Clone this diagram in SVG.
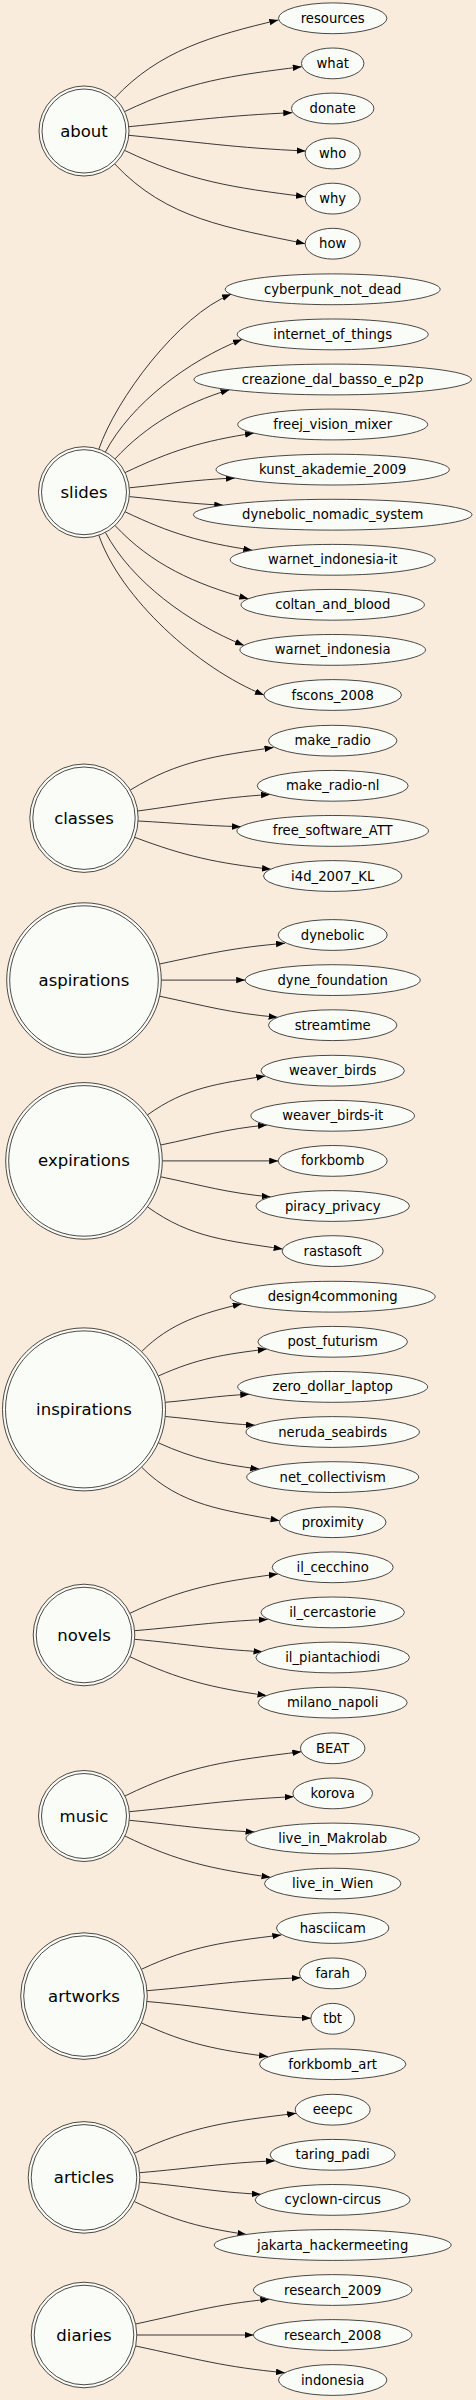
<svg xmlns="http://www.w3.org/2000/svg" width="476" height="2400" viewBox="0 0 476 2400">
<defs>
<style>
.bg{fill:#faecdc}
.hub circle{fill:#fafdf7;stroke:#3a3330;stroke-width:0.9}
.leaf ellipse{fill:#fafdf7;stroke:#333;stroke-width:0.9}
.hub text{font-family:"DejaVu Sans","Liberation Sans",sans-serif;font-size:16.5px;fill:#000;text-anchor:middle}
.leaf text{font-family:"DejaVu Sans","Liberation Sans",sans-serif;font-size:13.2px;fill:#000;text-anchor:middle}
#edges path{fill:none;stroke:#222;stroke-width:0.9;marker-end:url(#ah)}
</style>
<marker id="ah" markerUnits="userSpaceOnUse" markerWidth="10" markerHeight="7" refX="9" refY="3.25" orient="auto">
<path d="M0,0 L9,3.25 L0,6.5 z" fill="#000"/>
</marker>
</defs>
<rect class="bg" x="0" y="0" width="476" height="2400"/>

<g id="edges">
<path d="M114.7,98.1 C159.3,50.3 212.9,35.6 278.3,20"/>
<path d="M124.6,111.6 C188.5,81.1 230.9,75.7 301.7,66.7"/>
<path d="M128.8,126.7 C194,120.4 226.9,115.5 292.3,112.7"/>
<path d="M128.8,135.3 C199.3,142.1 234.9,147.9 305.7,151"/>
<path d="M124.6,150.4 C189.8,181.5 232.8,187.5 305,196.7"/>
<path d="M114.7,163.9 C166.6,219.6 228.9,227.7 305,243.7"/>

<path d="M98.8,449.2 C116,399.2 178.1,315.5 231,294.3"/>
<path d="M105.4,452 C131,403.8 187.4,361.2 242,339.4"/>
<path d="M115,458.9 C146.2,425.4 183.7,403.5 229.5,389.7"/>
<path d="M125.1,472.6 C171.7,450.4 202.4,441 254,433.1"/>
<path d="M129.3,487.8 C171.4,483.7 192.7,479.9 235,478"/>
<path d="M129.3,496.6 C166.7,500.2 185.7,503.5 223.3,505.2"/>
<path d="M125.1,511.8 C171,533.7 201.4,542.5 252.3,550.2"/>
<path d="M115,525.5 C151.4,564.5 195,584.1 248.3,598.8"/>
<path d="M105.4,532.4 C131.4,581.3 188.6,623.2 244,645.4"/>
<path d="M98.8,535.2 C120.3,597.7 197.9,668.6 264,695"/>

<path d="M130.3,790 C179.2,760.2 216.2,756 273.5,747.5"/>
<path d="M137.7,811 C190.1,804 217.1,797.8 270,794.5"/>
<path d="M138.1,821 C179.2,823.2 199.8,825.5 241,826.7"/>
<path d="M134.7,837.3 C185.7,856.5 216.5,862.9 271,869.3"/>

<path d="M159.6,964 C208.7,953.6 234.8,947.4 285,943.3"/>
<path d="M161.3,980.1 L245.2,980.1"/>
<path d="M159.6,996.2 C205.8,1006 230.4,1013.1 277.6,1017.3"/>

<path d="M147.4,1115 C185.6,1087.3 218.1,1083.8 265.3,1076"/>
<path d="M160.7,1145 C202.3,1136.4 224.5,1129 267,1125"/>
<path d="M162.3,1160.9 L278.2,1160.9"/>
<path d="M160.7,1176.8 C203.8,1185.7 226.7,1192.9 270.7,1196.9"/>
<path d="M147.4,1206.8 C191.2,1238.5 228.5,1240.6 282.6,1249.1"/>

<path d="M141.5,1351.7 C169.8,1323.3 201.6,1313.4 241.7,1303.8"/>
<path d="M158.3,1376 C197.9,1358.2 223.3,1354.5 266.7,1349.1"/>
<path d="M165.2,1402.3 C198.7,1399.4 215.7,1395.9 249.3,1394.3"/>
<path d="M165.2,1416.5 C200.9,1419.6 219.1,1423.5 255,1425.2"/>
<path d="M158.3,1442.8 C195.1,1459.4 218.9,1463.8 259.3,1469.1"/>
<path d="M141.5,1467.1 C180.5,1506.2 224.4,1510 279.6,1520.7"/>

<path d="M129.9,1613.3 C183.4,1588 218.6,1581.9 277.8,1574"/>
<path d="M134.6,1630.7 C187.6,1626.2 214.5,1621.7 267.7,1619.4"/>
<path d="M134.6,1639.3 C185.6,1643.7 211.3,1649.2 262.5,1651.7"/>
<path d="M129.9,1656.7 C179.3,1680 211.9,1687.8 266.5,1695.6"/>

<path d="M124.9,1796 C188.3,1764.9 230.7,1760.6 301.3,1751.7"/>
<path d="M129.3,1811.7 C194.8,1805.5 228,1799.7 293.8,1796.7"/>
<path d="M129.3,1820.3 C179.2,1825 204.4,1829.7 254.5,1832"/>
<path d="M124.9,1836 C177.2,1861.6 212.3,1869 270.5,1877.3"/>

<path d="M141.4,1969.3 C192.1,1945.6 225.3,1941.9 281.3,1935"/>
<path d="M147,1990.7 C208.3,1985.5 239.3,1980.3 300.8,1977.7"/>
<path d="M147,2001.5 C212.3,2007.1 245.3,2015 310.9,2018.3"/>
<path d="M141.4,2022.9 C187.2,2044.3 217.4,2049.9 268,2056.6"/>

<path d="M134.3,2153.3 C192.7,2125.3 231.4,2121.3 296.2,2113.3"/>
<path d="M139.6,2172.7 C193.6,2168.1 220.9,2163.2 275.1,2160.8"/>
<path d="M139.6,2182.1 C187.9,2186.2 212.4,2191.9 260.9,2194.3"/>
<path d="M134.3,2201.5 C174.8,2220.9 201.6,2227.9 246.5,2234.5"/>

<path d="M135.6,2324 C187.9,2312.9 215.8,2304.2 269.3,2299.2"/>
<path d="M136.8,2335 L253.5,2335"/>
<path d="M135.6,2346 C194.1,2358.4 225.2,2367.4 285,2372.7"/>
</g>

<g id="about" class="hub"><circle cx="84" cy="131" r="45"/><circle cx="84" cy="131" r="42"/><text x="84" y="136.5">about</text></g>
<g id="slides" class="hub"><circle cx="84" cy="492.2" r="45.5"/><circle cx="84" cy="492.2" r="42.5"/><text x="84" y="497.7">slides</text></g>
<g id="classes" class="hub"><circle cx="84" cy="818.2" r="54.2"/><circle cx="84" cy="818.2" r="51.2"/><text x="84" y="823.7">classes</text></g>
<g id="aspirations" class="hub"><circle cx="84" cy="980.1" r="77.3"/><circle cx="84" cy="980.1" r="74.3"/><text x="84" y="985.6">aspirations</text></g>
<g id="expirations" class="hub"><circle cx="84" cy="1160.9" r="78.3"/><circle cx="84" cy="1160.9" r="75.3"/><text x="84" y="1166.4">expirations</text></g>
<g id="inspirations" class="hub"><circle cx="84" cy="1409.4" r="81.5"/><circle cx="84" cy="1409.4" r="78.5"/><text x="84" y="1414.9">inspirations</text></g>
<g id="novels" class="hub"><circle cx="84" cy="1635" r="50.8"/><circle cx="84" cy="1635" r="47.8"/><text x="84" y="1640.5">novels</text></g>
<g id="music" class="hub"><circle cx="84" cy="1816" r="45.5"/><circle cx="84" cy="1816" r="42.5"/><text x="84" y="1821.5">music</text></g>
<g id="artworks" class="hub"><circle cx="84" cy="1996.1" r="63.3"/><circle cx="84" cy="1996.1" r="60.3"/><text x="84" y="2001.6">artworks</text></g>
<g id="articles" class="hub"><circle cx="84" cy="2177.4" r="55.8"/><circle cx="84" cy="2177.4" r="52.8"/><text x="84" y="2182.9">articles</text></g>
<g id="diaries" class="hub"><circle cx="84" cy="2335" r="52.8"/><circle cx="84" cy="2335" r="49.8"/><text x="84" y="2340.5">diaries</text></g>

<g id="resources" class="leaf"><ellipse cx="332.7" cy="18.3" rx="54.2" ry="15.4"/><text x="332.7" y="22.8">resources</text></g>
<g id="what" class="leaf"><ellipse cx="332.7" cy="63.4" rx="31.2" ry="15.4"/><text x="332.7" y="67.9">what</text></g>
<g id="donate" class="leaf"><ellipse cx="332.7" cy="108.5" rx="41.2" ry="15.4"/><text x="332.7" y="113">donate</text></g>
<g id="who" class="leaf"><ellipse cx="332.7" cy="153.5" rx="27.5" ry="15.4"/><text x="332.7" y="158">who</text></g>
<g id="why" class="leaf"><ellipse cx="332.7" cy="198.6" rx="27.5" ry="15.4"/><text x="332.7" y="203.1">why</text></g>
<g id="how" class="leaf"><ellipse cx="332.7" cy="243.7" rx="27.5" ry="15.4"/><text x="332.7" y="248.2">how</text></g>

<g id="cyberpunk_not_dead" class="leaf"><ellipse cx="332.7" cy="289.3" rx="107.5" ry="15.4"/><text x="332.7" y="293.8">cyberpunk_not_dead</text></g>
<g id="internet_of_things" class="leaf"><ellipse cx="332.7" cy="334.4" rx="95.5" ry="15.4"/><text x="332.7" y="338.9">internet_of_things</text></g>
<g id="creazione_dal_basso_e_p2p" class="leaf"><ellipse cx="332.7" cy="379.5" rx="138.8" ry="15.4"/><text x="332.7" y="384">creazione_dal_basso_e_p2p</text></g>
<g id="freej_vision_mixer" class="leaf"><ellipse cx="332.7" cy="424.5" rx="95" ry="15.4"/><text x="332.7" y="429">freej_vision_mixer</text></g>
<g id="kunst_akademie_2009" class="leaf"><ellipse cx="332.7" cy="469.6" rx="116.7" ry="15.4"/><text x="332.7" y="474.1">kunst_akademie_2009</text></g>
<g id="dynebolic_nomadic_system" class="leaf"><ellipse cx="332.7" cy="514.7" rx="139.3" ry="15.4"/><text x="332.7" y="519.2">dynebolic_nomadic_system</text></g>
<g id="warnet_indonesia-it" class="leaf"><ellipse cx="332.7" cy="559.8" rx="102.5" ry="15.4"/><text x="332.7" y="564.3">warnet_indonesia-it</text></g>
<g id="coltan_and_blood" class="leaf"><ellipse cx="332.7" cy="604.8" rx="91.7" ry="15.4"/><text x="332.7" y="609.3">coltan_and_blood</text></g>
<g id="warnet_indonesia" class="leaf"><ellipse cx="332.7" cy="649.9" rx="92.8" ry="15.4"/><text x="332.7" y="654.4">warnet_indonesia</text></g>
<g id="fscons_2008" class="leaf"><ellipse cx="332.7" cy="695" rx="68.8" ry="15.4"/><text x="332.7" y="699.5">fscons_2008</text></g>

<g id="make_radio" class="leaf"><ellipse cx="332.7" cy="740.7" rx="64.2" ry="15.4"/><text x="332.7" y="745.2">make_radio</text></g>
<g id="make_radio-nl" class="leaf"><ellipse cx="332.7" cy="785.8" rx="75.5" ry="15.4"/><text x="332.7" y="790.3">make_radio-nl</text></g>
<g id="free_software_ATT" class="leaf"><ellipse cx="332.7" cy="830.9" rx="95.8" ry="15.4"/><text x="332.7" y="835.4">free_software_ATT</text></g>
<g id="i4d_2007_KL" class="leaf"><ellipse cx="332.7" cy="876" rx="69.2" ry="15.4"/><text x="332.7" y="880.5">i4d_2007_KL</text></g>

<g id="dynebolic" class="leaf"><ellipse cx="332.7" cy="935" rx="54.5" ry="15.4"/><text x="332.7" y="939.5">dynebolic</text></g>
<g id="dyne_foundation" class="leaf"><ellipse cx="332.7" cy="980.1" rx="87.5" ry="15.4"/><text x="332.7" y="984.6">dyne_foundation</text></g>
<g id="streamtime" class="leaf"><ellipse cx="332.7" cy="1025.2" rx="64.2" ry="15.4"/><text x="332.7" y="1029.7">streamtime</text></g>

<g id="weaver_birds" class="leaf"><ellipse cx="332.7" cy="1070.7" rx="71.7" ry="15.4"/><text x="332.7" y="1075.2">weaver_birds</text></g>
<g id="weaver_birds-it" class="leaf"><ellipse cx="332.7" cy="1115.8" rx="81.8" ry="15.4"/><text x="332.7" y="1120.3">weaver_birds-it</text></g>
<g id="forkbomb" class="leaf"><ellipse cx="332.7" cy="1160.9" rx="54.5" ry="15.4"/><text x="332.7" y="1165.4">forkbomb</text></g>
<g id="piracy_privacy" class="leaf"><ellipse cx="332.7" cy="1206" rx="76.8" ry="15.4"/><text x="332.7" y="1210.5">piracy_privacy</text></g>
<g id="rastasoft" class="leaf"><ellipse cx="332.7" cy="1251.1" rx="50.5" ry="15.4"/><text x="332.7" y="1255.6">rastasoft</text></g>

<g id="design4commoning" class="leaf"><ellipse cx="332.7" cy="1296.7" rx="102.5" ry="15.4"/><text x="332.7" y="1301.2">design4commoning</text></g>
<g id="post_futurism" class="leaf"><ellipse cx="332.7" cy="1341.8" rx="74.8" ry="15.4"/><text x="332.7" y="1346.3">post_futurism</text></g>
<g id="zero_dollar_laptop" class="leaf"><ellipse cx="332.7" cy="1386.9" rx="95" ry="15.4"/><text x="332.7" y="1391.4">zero_dollar_laptop</text></g>
<g id="neruda_seabirds" class="leaf"><ellipse cx="332.7" cy="1432" rx="86.7" ry="15.4"/><text x="332.7" y="1436.5">neruda_seabirds</text></g>
<g id="net_collectivism" class="leaf"><ellipse cx="332.7" cy="1477.1" rx="86" ry="15.4"/><text x="332.7" y="1481.6">net_collectivism</text></g>
<g id="proximity" class="leaf"><ellipse cx="332.7" cy="1522.2" rx="53.3" ry="15.4"/><text x="332.7" y="1526.7">proximity</text></g>

<g id="il_cecchino" class="leaf"><ellipse cx="332.7" cy="1567.3" rx="60.5" ry="15.4"/><text x="332.7" y="1571.8">il_cecchino</text></g>
<g id="il_cercastorie" class="leaf"><ellipse cx="332.7" cy="1612.4" rx="71.7" ry="15.4"/><text x="332.7" y="1616.9">il_cercastorie</text></g>
<g id="il_piantachiodi" class="leaf"><ellipse cx="332.7" cy="1657.5" rx="76.8" ry="15.4"/><text x="332.7" y="1662">il_piantachiodi</text></g>
<g id="milano_napoli" class="leaf"><ellipse cx="332.7" cy="1702.6" rx="74.5" ry="15.4"/><text x="332.7" y="1707.1">milano_napoli</text></g>

<g id="BEAT" class="leaf"><ellipse cx="332.7" cy="1748.3" rx="32.2" ry="15.4"/><text x="332.7" y="1752.8">BEAT</text></g>
<g id="korova" class="leaf"><ellipse cx="332.7" cy="1793.4" rx="39.8" ry="15.4"/><text x="332.7" y="1797.9">korova</text></g>
<g id="live_in_Makrolab" class="leaf"><ellipse cx="332.7" cy="1838.5" rx="86.7" ry="15.4"/><text x="332.7" y="1843">live_in_Makrolab</text></g>
<g id="live_in_Wien" class="leaf"><ellipse cx="332.7" cy="1883.6" rx="68.2" ry="15.4"/><text x="332.7" y="1888.1">live_in_Wien</text></g>

<g id="hasciicam" class="leaf"><ellipse cx="332.7" cy="1928" rx="56.2" ry="15.4"/><text x="332.7" y="1932.5">hasciicam</text></g>
<g id="farah" class="leaf"><ellipse cx="332.7" cy="1973.4" rx="33.2" ry="15.4"/><text x="332.7" y="1977.9">farah</text></g>
<g id="tbt" class="leaf"><ellipse cx="332.7" cy="2018.8" rx="21.8" ry="15.4"/><text x="332.7" y="2023.3">tbt</text></g>
<g id="forkbomb_art" class="leaf"><ellipse cx="332.7" cy="2064.2" rx="73.2" ry="15.4"/><text x="332.7" y="2068.7">forkbomb_art</text></g>

<g id="eeepc" class="leaf"><ellipse cx="332.7" cy="2109.7" rx="37.5" ry="15.4"/><text x="332.7" y="2114.2">eeepc</text></g>
<g id="taring_padi" class="leaf"><ellipse cx="332.7" cy="2154.8" rx="62.5" ry="15.4"/><text x="332.7" y="2159.3">taring_padi</text></g>
<g id="cyclown-circus" class="leaf"><ellipse cx="332.7" cy="2199.9" rx="77.5" ry="15.4"/><text x="332.7" y="2204.4">cyclown-circus</text></g>
<g id="jakarta_hackermeeting" class="leaf"><ellipse cx="332.7" cy="2245" rx="118.5" ry="15.4"/><text x="332.7" y="2249.5">jakarta_hackermeeting</text></g>

<g id="research_2009" class="leaf"><ellipse cx="332.7" cy="2290" rx="79.2" ry="15.4"/><text x="332.7" y="2294.5">research_2009</text></g>
<g id="research_2008" class="leaf"><ellipse cx="332.7" cy="2335" rx="79.2" ry="15.4"/><text x="332.7" y="2339.5">research_2008</text></g>
<g id="indonesia" class="leaf"><ellipse cx="332.7" cy="2380" rx="54.2" ry="15.4"/><text x="332.7" y="2384.5">indonesia</text></g>
</svg>
